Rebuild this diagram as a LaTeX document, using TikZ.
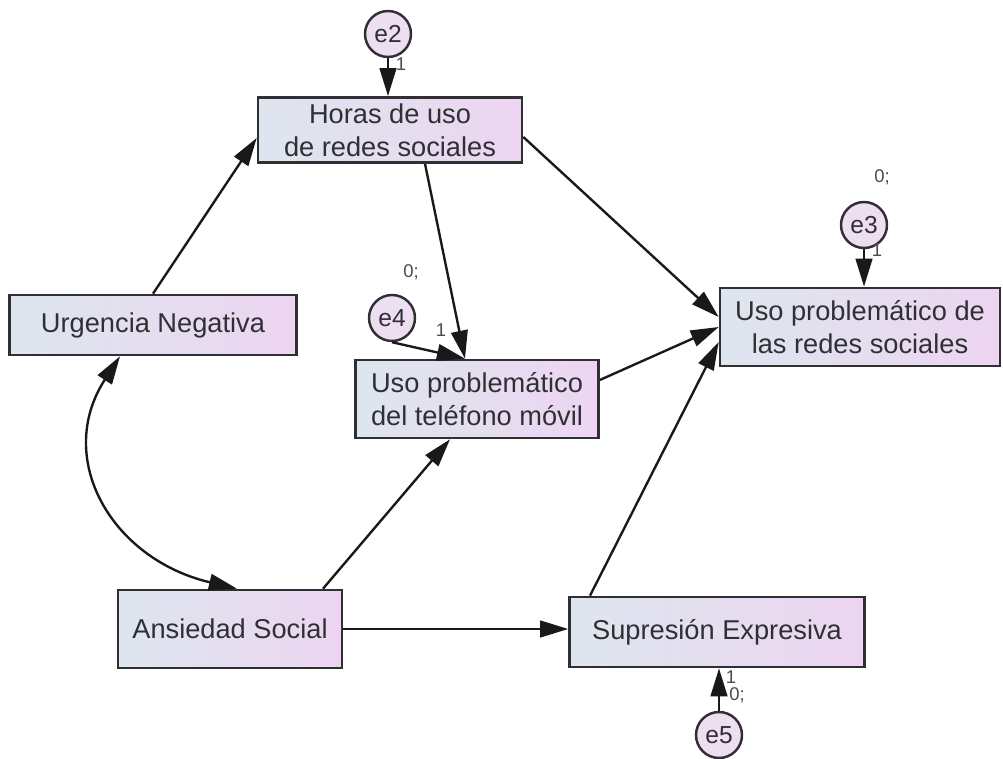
\documentclass[tikz,border=0pt]{standalone}
\usepackage{fontspec}
\setmainfont{Liberation Sans}
\usepackage{tikz}
\usetikzlibrary{arrows.meta, calc}
\definecolor{boxleft}{RGB}{221,230,238}
\definecolor{boxright}{RGB}{237,213,241}
\definecolor{errfill}{RGB}{238,222,241}
\definecolor{inkgray}{RGB}{48,48,52}
\tikzset{
  sem var/.style={
    rectangle, draw=inkgray, line width=1.5pt,
    left color=boxleft, right color=boxright,
    align=center, text=inkgray, inner sep=2pt,
    font=\fontsize{15.5}{18.7}\selectfont
  },
  sem err/.style={
    circle, draw=inkgray, line width=1.4pt, fill=errfill,
    minimum size=0.92cm, inner sep=0pt, text=inkgray,
    font=\fontsize{14}{16}\selectfont
  },
  sem tip/.style={Triangle[length=16pt,width=9.5pt]},
  sem arrow/.style={
    -{Triangle[length=16pt,width=9.5pt]}, line width=1.35pt, draw=black!90
  },
  sem label/.style={
    font=\fontsize{10.5}{11}\selectfont, text=black!70, inner sep=0pt
  }
}

\begin{document}
\begin{tikzpicture}[x=0.02cm, y=-0.02cm]
\path[use as bounding box, fill=white] (0,0) rectangle (1003,759);

% ====== Observed variables ======
\node[sem var, minimum width=5.28cm, minimum height=1.30cm] (horas) at (390,130) {Horas de uso\\de redes sociales};
\node[sem var, minimum width=5.74cm, minimum height=1.20cm] (urg) at (153,325) {Urgencia Negativa};
\node[sem var, minimum width=4.86cm, minimum height=1.56cm] (tel) at (477,399) {Uso problemático\\del teléfono móvil};
\node[sem var, minimum width=5.60cm, minimum height=1.56cm] (redes) at (860,327) {Uso problemático de\\las redes sociales};
\node[sem var, minimum width=4.48cm, minimum height=1.56cm] (ans) at (230,629) {Ansiedad Social};
\node[sem var, minimum width=5.90cm, minimum height=1.40cm] (sup) at (717,632) {Supresión Expresiva};

% ====== Error terms ======
\node[sem err] (e2) at (388,34) {e2};
\node[sem err] (e3) at (864,225) {e3};
\node[sem err] (e4) at (392,318) {e4};
\node[sem err] (e5) at (719,735) {e5};

% -- error paths --
\draw[sem arrow] (e2) -- (e2 |- horas.north);
\draw[sem arrow] (e3) -- (e3 |- redes.north);
\draw[sem arrow] (e5) -- (e5 |- sup.south);
\coordinate (telin) at ($(tel.north)+(-12,0)$);
\draw[sem arrow] (e4.south) -- (telin);

\node[sem label] (l2) at (401,64) {1};
\node[sem label] (l3) at (877,250) {1};
\node[sem label] (v3) at (882,177) {0;};
\node[sem label] (l4) at (441,330) {1};
\node[sem label] (v4) at (411,272) {0;};
\node[sem label] (l5) at (731,677) {1};
\node[sem label] (v5) at (737,695) {0;};

% ====== Structural paths ======
\draw[sem arrow] (urg.north) -- ($(horas.west)+(0,8)$);
\draw[sem arrow] ($(horas.east)+(0,7)$) -- ($(redes.west)+(0,-10)$);
\draw[sem arrow] ($(horas.south)+(35,0)$) -- (telin);
\draw[sem arrow] ($(tel.east)+(0,-19)$) -- (redes.west);
\draw[sem arrow] ($(ans.north)+(93,0)$) -- ($(tel.south)+(-27,0)$);
\draw[sem arrow] (ans.east) -- (ans.east -| sup.west);
\draw[sem arrow] ($(sup.north)+(-127,0)$) -- ($(redes.west)+(0,15)$);

% -- covariance --
\draw[{Triangle[length=16pt,width=9.5pt]}-{Triangle[length=16pt,width=9.5pt]}, line width=1.35pt, draw=black!90]
  ($(urg.south)+(-33,0)$) .. controls (54,458) and (111,559) .. ($(ans.north)+(7,0)$);

\end{tikzpicture}
\end{document}
